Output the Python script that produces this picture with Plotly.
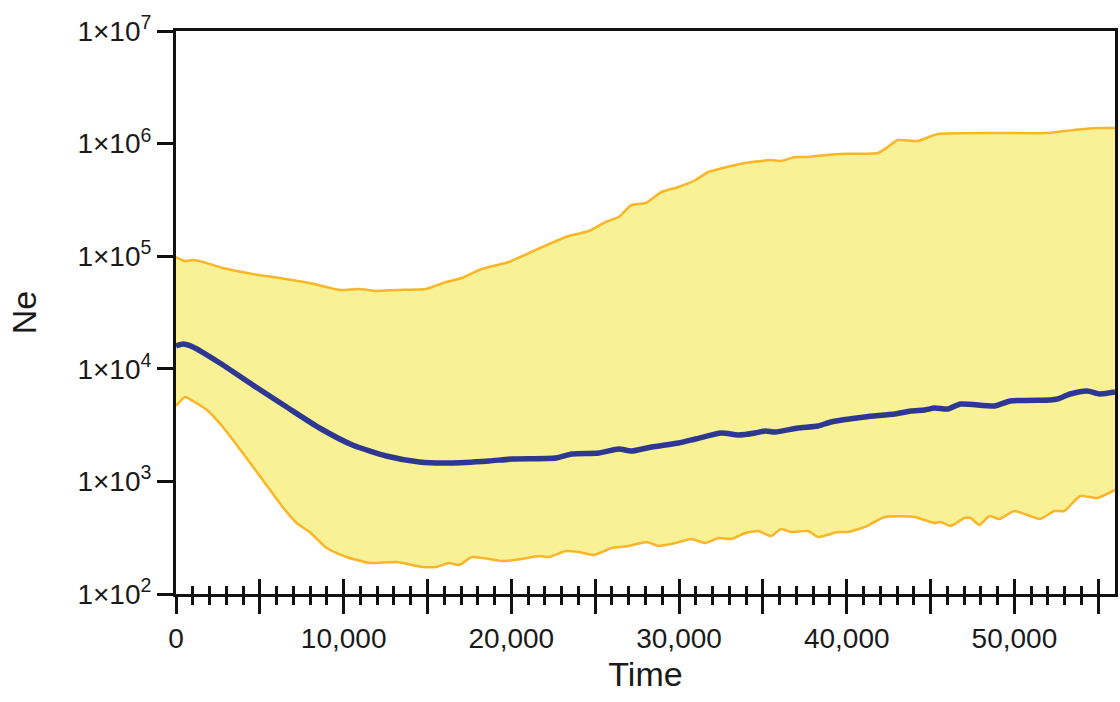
import plotly.graph_objects as go

# Upper 95% HPD
upper_time = [0, 535, 1010, 1605, 2794, 4578, 6183, 7967, 9750, 10940, 11950, 13139, 14923, 15280,
              16112, 17063, 18074, 18668, 19857, 21046, 23246, 24613, 25624, 26397, 27170, 28002,
              28954, 29964, 30975, 31748, 33115, 33948, 35494, 36088, 36920, 37693, 39477, 41855,
              42449, 43044, 44233, 45422, 48989, 51962, 52973, 54935, 56000]
upper_ne = [98400, 90600, 92500, 88900, 78600, 69500, 64000, 57800, 50100, 51100, 49100, 50100, 51100, 53300,
            59000, 64000, 75400, 80200, 88900, 106700, 148100, 167400, 201200, 222900, 284900, 296800,
            371700, 411800, 475000, 559500, 632400, 672400, 715000, 700500, 760300, 760300, 808300, 825000,
            932800, 1076000, 1054600, 1217000, 1242000, 1242000, 1294000, 1376000, 1376000]

# Median
median_time = [0, 416, 1010, 2616, 4578, 6599, 8561, 10523, 12545, 14507, 16290, 18668, 20036, 22652,
               23603, 25208, 26397, 27170, 28359, 29964, 30975, 32521, 33532, 34542, 35137, 35731,
               37099, 38288, 39061, 41082, 42866, 43817, 44649, 45244, 46017, 46790, 48811, 49762,
               52140, 52556, 53329, 54340, 55113, 56000]
median_ne = [15940, 16600, 15620, 11260, 7180, 4579, 2980, 2105, 1681, 1487, 1457, 1518, 1581, 1614,
             1751, 1787, 1940, 1862, 2021, 2193, 2380, 2690, 2583, 2690, 2803, 2746,
             2980, 3104, 3370, 3732, 3968, 4219, 4306, 4486, 4395, 4869, 4673, 5176,
             5283, 5392, 5973, 6350, 5973, 6221]

# Lower 95% HPD
lower_time = [0, 535, 1010, 1843, 2794, 3983, 5172, 6361, 7194, 7967, 8977, 10166, 11534, 13139, 14685,
              15517, 16290, 16885, 17658, 18668, 19441, 20630, 21641, 22235, 23246, 24019, 24911, 25981,
              26992, 28062, 28775, 29786, 30737, 31570, 32342, 33115, 33948, 34721, 35494, 36088, 36683,
              37693, 38288, 39477, 40071, 41082, 42271, 44055, 45244, 45600, 46195, 47027, 47384, 47919,
              48514, 49108, 50000, 51546, 52378, 52973, 53924, 54935, 56000]
lower_ne = [4673, 5617, 5176, 4306, 3042, 1787, 1029, 592, 427, 355, 256, 213, 188.5, 192, 174,
            174, 188.5, 181, 213, 205, 196, 205, 218, 213, 241, 236, 222, 256,
            267, 290, 267, 284, 308, 284, 314, 308, 348, 363, 327, 378, 355,
            363, 321, 355, 355, 394, 483, 483, 427, 436, 402, 473, 473, 410,
            493, 464, 546, 464, 546, 546, 742, 712, 839]

y_tickvals = [1e2, 1e3, 1e4, 1e5, 1e6, 1e7]
y_ticktext = ["1×10<sup>2</sup>", "1×10<sup>3</sup>", "1×10<sup>4</sup>",
              "1×10<sup>5</sup>", "1×10<sup>6</sup>", "1×10<sup>7</sup>"]
x_label_vals = [0, 10000, 20000, 30000, 40000, 50000]
x_label_text = ["0", "10,000", "20,000", "30,000", "40,000", "50,000"]
x_mid_vals = [5000, 15000, 25000, 35000, 45000, 55000]

FILL = "#f9f195"
ORANGE = "#fbb526"
BLUE = "#2e3892"
TXT = "#1a1a1a"
AX = "#111111"
FONT = "Liberation Sans, Arial, sans-serif"
XR = [0, 56000]

fig = go.Figure()
fig.add_trace(go.Scatter(x=lower_time, y=lower_ne, mode="lines",
                         line=dict(color=ORANGE, width=2.5, shape="spline", smoothing=0.5),
                         showlegend=False, hoverinfo="skip"))
fig.add_trace(go.Scatter(x=upper_time, y=upper_ne, mode="lines", fill="tonexty", fillcolor=FILL,
                         line=dict(color=ORANGE, width=2.5, shape="spline", smoothing=0.5),
                         showlegend=False, hoverinfo="skip"))
fig.add_trace(go.Scatter(x=median_time, y=median_ne, mode="lines",
                         line=dict(color=BLUE, width=5.5, shape="spline", smoothing=0.6),
                         showlegend=False))
fig.add_trace(go.Scatter(x=[None], y=[None], xaxis="x2", showlegend=False, hoverinfo="skip"))
fig.add_trace(go.Scatter(x=[None], y=[None], xaxis="x3", showlegend=False, hoverinfo="skip"))

fig.update_layout(
    width=1120, height=702,
    margin=dict(l=176, r=2, t=31, b=108),
    paper_bgcolor="white", plot_bgcolor="white",
    font=dict(family=FONT, color=TXT, size=28),
    xaxis=dict(
        range=XR, showgrid=False, zeroline=False,
        showline=True, linecolor=AX, linewidth=3, mirror=True,
        tickmode="array", tickvals=x_label_vals, ticktext=x_label_text,
        ticks="outside", ticklen=17, tickwidth=2.5, tickcolor=AX,
        tickfont=dict(size=28, family=FONT, color=TXT),
        minor=dict(tickmode="array", tickvals=x_mid_vals, ticks="outside",
                   ticklen=17, tickwidth=2.5, tickcolor=AX, showgrid=False),
        title=dict(text="Time", font=dict(size=34, family=FONT, color=TXT), standoff=10),
    ),
    xaxis2=dict(
        overlaying="x", matches="x", anchor="y", side="bottom", range=XR,
        showgrid=False, zeroline=False, showline=False, showticklabels=False,
        tickmode="linear", tick0=0, dtick=5000,
        ticks="inside", ticklen=15, tickwidth=2.5, tickcolor=AX,
        minor=dict(tickmode="linear", tick0=0, dtick=1000, ticks="outside",
                   ticklen=10, tickwidth=2.5, tickcolor=AX, showgrid=False),
    ),
    xaxis3=dict(
        overlaying="x", matches="x", anchor="y", side="bottom", range=XR,
        showgrid=False, zeroline=False, showline=False, showticklabels=False,
        tickmode="linear", tick0=0, dtick=1000,
        ticks="inside", ticklen=8, tickwidth=2.5, tickcolor=AX,
    ),
    yaxis=dict(
        type="log", range=[2, 7], showgrid=False, zeroline=False,
        showline=True, linecolor=AX, linewidth=3, mirror=True,
        tickmode="array", tickvals=y_tickvals, ticktext=y_ticktext,
        ticks="outside", ticklen=16, tickwidth=3, tickcolor=AX,
        tickfont=dict(size=28, family=FONT, color=TXT),
        title=dict(text="Ne", font=dict(size=34, family=FONT, color=TXT), standoff=31),
    ),
)

fig.write_html("out.html", config={"displayModeBar": False},
               post_script="document.body.style.margin='0';document.body.style.overflow='hidden';")
